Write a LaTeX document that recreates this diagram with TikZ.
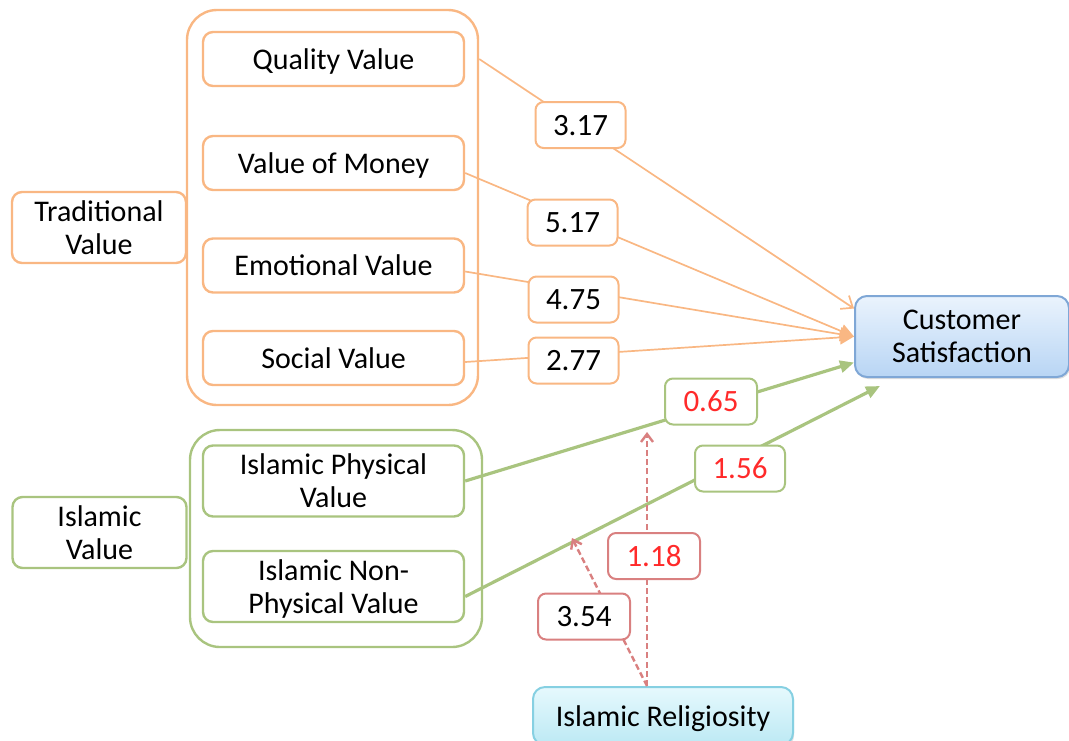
\documentclass[tikz,border=0pt]{standalone}
\usepackage{fontspec}
\setmainfont{Carlito}
\usetikzlibrary{positioning, arrows.meta, shadows}
\definecolor{TradOrange}{HTML}{F9B783}
\definecolor{IslamGreen}{HTML}{A9C47F}
\definecolor{ReligRed}{HTML}{D98080}
\definecolor{SatBlue}{HTML}{7FA7D6}
\definecolor{SatTop}{HTML}{EAF3FD}
\definecolor{SatBottom}{HTML}{B8D5F4}
\definecolor{ReligCyan}{HTML}{86D0E2}
\definecolor{ReligTop}{HTML}{E6F9FD}
\definecolor{ReligBottom}{HTML}{BCE9F4}
\definecolor{NumRed}{HTML}{FF2A2A}

\tikzset{
  tradbox/.style={draw=TradOrange, line width=1.2pt, fill=white, rounded corners=5pt, minimum width=130.5pt, minimum height=27pt},
  islambox/.style={draw=IslamGreen, line width=1.2pt, fill=white, rounded corners=5pt, minimum width=130.5pt, minimum height=35.5pt},
  numbox/.style={draw=#1, line width=1pt, fill=white, rounded corners=4pt, minimum width=45pt, minimum height=23pt, font=\fontsize{15.5}{17}\selectfont},
  tradline/.style={draw=TradOrange, line width=0.85pt},
  islamline/.style={draw=IslamGreen, line width=1.6pt, -{Triangle[length=7pt, width=6pt]}},
  religline/.style={draw=ReligRed, line width=1.2pt, dash pattern=on 3pt off 1.6pt, -{Straight Barb[length=4pt, width=6pt]}}
}

\begin{document}
\begin{tikzpicture}[x=0.5pt, y=-0.5pt, every node/.style={font=\fontsize{15}{16.5}\selectfont, align=center, text=black, text depth=0pt}]
  \useasboundingbox (0,0) rectangle (1069,740);

  % Group frames
  \node[draw=TradOrange, line width=1.2pt, rounded corners=15pt, minimum width=145.5pt, minimum height=197.5pt] (tradgroup) at (332.5, 207.5) {};
  \node[draw=IslamGreen, line width=1.2pt, rounded corners=15pt, minimum width=146pt, minimum height=108.5pt] (islamgroup) at (336, 538.5) {};

  % Traditional value items
  \node[tradbox] (quality) at (333.5, 59) {Quality Value};
  \node[tradbox] (money) at (333.5, 163) {Value of Money};
  \node[tradbox] (emotional) at (333.5, 265.5) {Emotional Value};
  \node[tradbox] (social) at (333.5, 358) {Social Value};
  \node[tradbox, minimum width=87pt, minimum height=35.5pt] (tradvalue) at (99, 227.5) {Traditional\\Value};

  % Islamic value items
  \node[islambox] (physical) at (333.5, 481) {Islamic Physical\\Value};
  \node[islambox] (nonphysical) at (333.5, 586.5) {Islamic Non-\\Physical Value};
  \node[islambox, minimum width=87pt] (islamvalue) at (99.5, 532.5) {Islamic\\Value};

  % Outcome and moderator
  \node[draw=SatBlue, line width=1pt, rounded corners=6pt, top color=SatTop, bottom color=SatBottom, drop shadow={shadow xshift=0.6pt, shadow yshift=-1pt, opacity=0.25}, minimum width=107pt, minimum height=40.5pt] (sat) at (962, 336.5) {Customer\\Satisfaction};
  \node[draw=ReligCyan, line width=1pt, rounded corners=6pt, top color=ReligTop, bottom color=ReligBottom, drop shadow={shadow xshift=0.6pt, shadow yshift=-1pt, opacity=0.25}, minimum width=130pt, minimum height=29pt] (relig) at (663, 716) {Islamic Religiosity};

  % Paths to satisfaction
  \draw[tradline, -{Straight Barb[length=5pt, width=8pt]}] (quality -| tradgroup.east) -- ([yshift=14pt]sat.west);
  \draw[tradline, -{Triangle[length=7pt, width=7pt]}] ([yshift=-5pt]money.east) -- (sat.west);
  \draw[tradline, -{Triangle[length=7pt, width=7pt]}] ([yshift=-3pt]emotional.east) -- (sat.west);
  \draw[tradline, -{Triangle[length=7pt, width=7pt]}] ([yshift=-2pt]social.east) -- (sat.west);
  \draw[islamline] (physical.east) -- ([yshift=-13pt]sat.west);
  \draw[islamline] ([yshift=-5pt]nonphysical.east) -- ([xshift=13pt, yshift=-4pt]sat.south west);

  % Moderation by religiosity
  \coordinate (physmod) at (647, 432);
  \coordinate (nonphysmod) at (572, 538);
  \draw[religline] ([xshift=-8pt]relig.north) -- (physmod);
  \draw[religline] ([xshift=-8pt]relig.north) -- (nonphysmod);

  % Coefficients
  \node[numbox=TradOrange] (c317) at (580.5, 125) {3.17};
  \node[numbox=TradOrange] (c517) at (572.5, 222.5) {5.17};
  \node[numbox=TradOrange] (c475) at (573.5, 299.5) {4.75};
  \node[numbox=TradOrange] (c277) at (573.5, 360.5) {2.77};
  \node[numbox=IslamGreen, minimum width=46pt, text=NumRed] (c065) at (711, 401.5) {0.65};
  \node[numbox=IslamGreen, text=NumRed] (c156) at (740, 468.5) {1.56};
  \node[numbox=ReligRed, minimum width=46pt, text=NumRed] (c118) at (654, 556) {1.18};
  \node[numbox=ReligRed, minimum width=46pt] (c354) at (584, 616.5) {3.54};
\end{tikzpicture}
\end{document}
